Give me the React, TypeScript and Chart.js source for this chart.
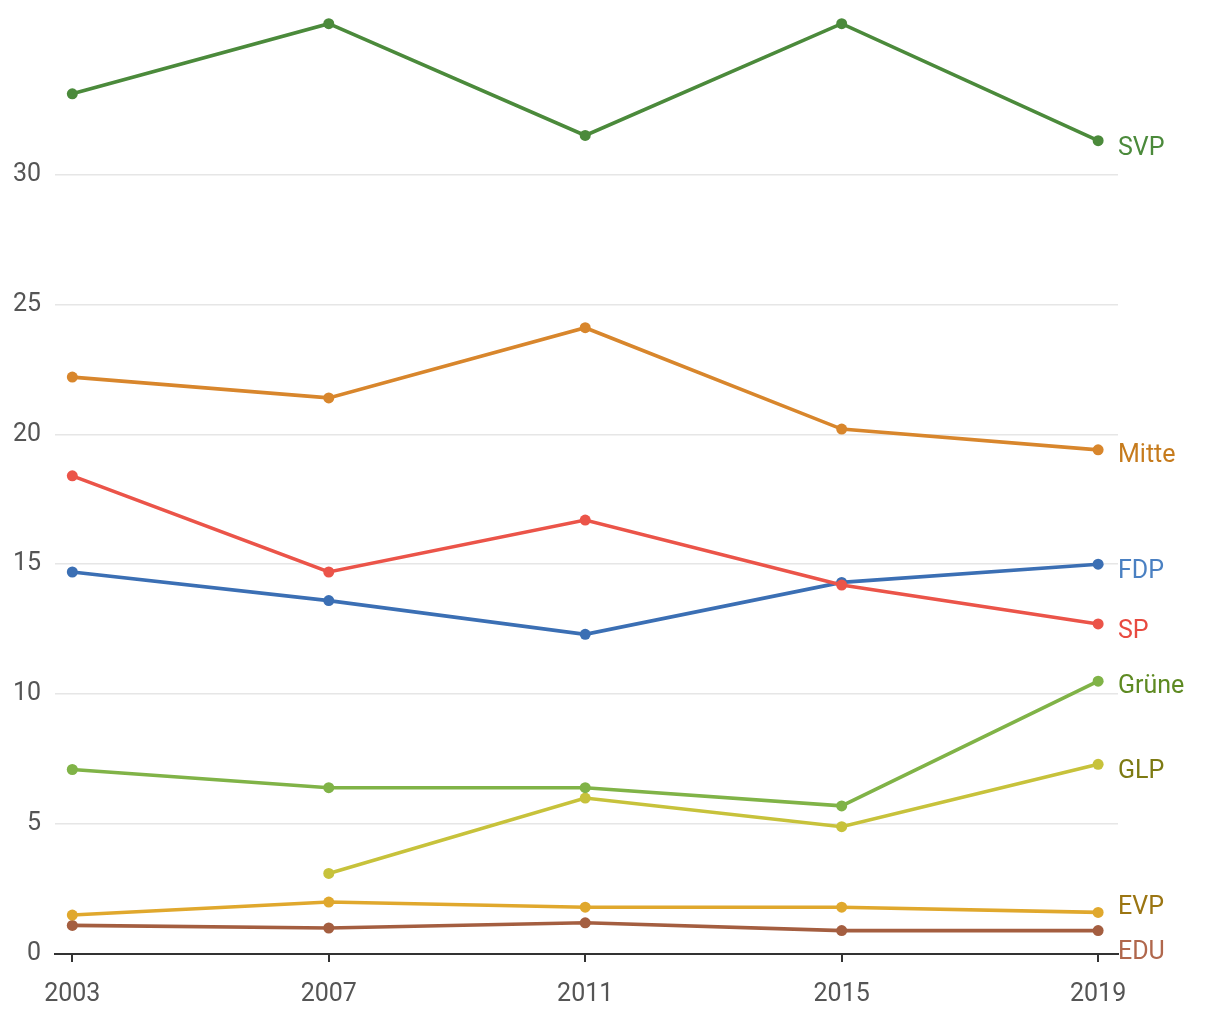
import React, { useEffect, useRef } from "react";
import { Chart, registerables } from "chart.js";

Chart.register(...registerables);

const years = [2003, 2007, 2011, 2015, 2019];
const yTicks = [0, 5, 10, 15, 20, 25, 30];

const parties = ["SVP", "Mitte", "SP", "FDP", "Grüne", "GLP", "EVP", "EDU"];
const svp = [33.1, 35.8, 31.5, 35.8, 31.3];
const mitte = [22.2, 21.4, 24.1, 20.2, 19.4];
const sp = [18.4, 14.7, 16.7, 14.2, 12.7];
const fdp = [14.7, 13.6, 12.3, 14.3, 15.0];
const gruene = [7.1, 6.4, 6.4, 5.7, 10.5];
const glp = [null, 3.1, 6.0, 4.9, 7.3];
const evp = [1.5, 2.0, 1.8, 1.8, 1.6];
const edu = [1.1, 1.0, 1.2, 0.9, 0.9];

const seriesValues = [svp, mitte, sp, fdp, gruene, glp, evp, edu];
const lineColors = ["#4b8a3b", "#d8862c", "#eb5449", "#3b6fb4", "#80b347", "#c7c23b", "#e0a82d", "#a45e40"];
const labelColors = ["#4b8a3b", "#c67b1d", "#e84a40", "#4a80c2", "#5e8a22", "#7d7a12", "#9b7512", "#b0674c"];
const labelNudge = [8, 6, 8, 8, 6, 7, -5, 22];

const FONT = "Roboto, 'Open Sans', sans-serif";

const endLabels = {
  id: "endLabels",
  afterDatasetsDraw(chart: any) {
    const ctx = chart.ctx;
    const area = chart.chartArea;
    ctx.save();
    ctx.font = `25px ${FONT}`;
    ctx.textBaseline = "middle";
    ctx.textAlign = "left";
    chart.data.datasets.forEach((ds: any, i: number) => {
      const meta = chart.getDatasetMeta(i);
      const pts = meta.data;
      const last = pts[pts.length - 1];
      if (!last) return;
      ctx.fillStyle = labelColors[i];
      ctx.fillText(parties[i], area.right, last.y + labelNudge[i]);
    });
    ctx.restore();
  },
};

export default function App() {
  const ref = useRef<HTMLCanvasElement | null>(null);
  useEffect(() => {
    document.body.style.margin = "0";
    const datasets = parties.map((p, i) => ({
      label: p,
      data: years
        .map((y, j) => ({ x: y, y: seriesValues[i][j] }))
        .filter((d) => d.y !== null),
      borderColor: lineColors[i],
      backgroundColor: lineColors[i],
      pointBackgroundColor: lineColors[i],
      pointBorderColor: lineColors[i],
      borderWidth: 3.6,
      pointRadius: 5.5,
      pointBorderWidth: 0,
      tension: 0,
    }));
    const chart = new Chart(ref.current!, {
      type: "line",
      data: { datasets },
      plugins: [endLabels],
      options: {
        animation: false,
        responsive: false,
        layout: { padding: { top: 3, right: 102, left: 0, bottom: 0 } },
        plugins: { legend: { display: false }, tooltip: { enabled: false } },
        scales: {
          x: {
            type: "linear",
            min: 2002.73,
            max: 2019.31,
            afterBuildTicks: (axis: any) => {
              axis.ticks = years.map((v) => ({ value: v }));
            },
            afterFit: (axis: any) => {
              axis.height = 66;
              axis.paddingLeft = 0;
              axis.paddingRight = 0;
            },
            grid: {
              drawOnChartArea: false,
              drawTicks: true,
              tickLength: 8,
              color: "#333333",
              lineWidth: 2,
            },
            border: { display: true, color: "#333333", width: 2 },
            ticks: {
              padding: 18,
              color: "#555555",
              font: { family: FONT, size: 25 },
              callback: (v: any) => String(v),
              maxRotation: 0,
            },
          },
          y: {
            type: "linear",
            min: 0,
            max: 36.5,
            afterBuildTicks: (axis: any) => {
              axis.ticks = yTicks.map((v) => ({ value: v }));
            },
            afterFit: (axis: any) => {
              axis.width = 55;
              axis.paddingTop = 0;
              axis.paddingBottom = 0;
            },
            grid: { color: "#e6e6e6", lineWidth: 1.5, drawTicks: false },
            border: { display: false },
            ticks: {
              padding: 14,
              color: "#555555",
              font: { family: FONT, size: 25 },
            },
          },
        },
      },
    });
    return () => chart.destroy();
  }, []);
  return <canvas ref={ref} width={1220} height={1020} style={{ display: "block" }} />;
}
